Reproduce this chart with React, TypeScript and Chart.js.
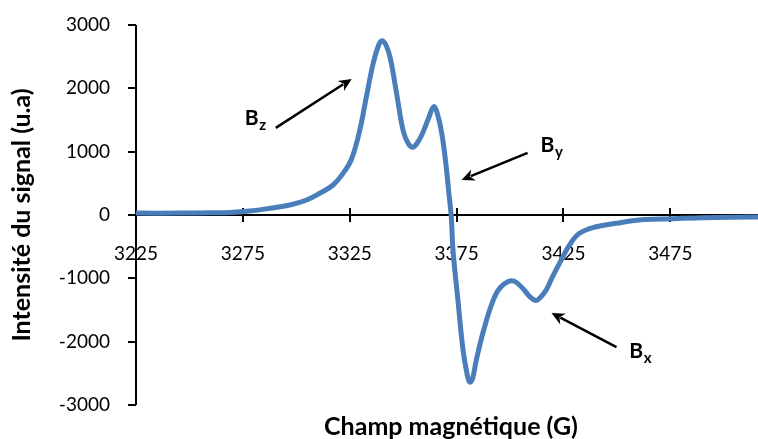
import React, { useEffect, useRef } from "react";
import { Chart, registerables } from "chart.js";

Chart.register(...registerables);

// Magnetic field (G) and signal intensity (a.u.)
const fieldG = [
  3225, 3245, 3260, 3269, 3278, 3287.6, 3297, 3304.8, 3311, 3317.2, 3321.9, 3325.8, 3329.7, 3332.8,
  3336, 3338.5, 3340, 3342, 3344, 3347, 3350, 3352.5, 3354.6, 3357, 3359.3, 3362, 3364.3, 3366, 3368,
  3370, 3371.4, 3372.5, 3373.3, 3375.6, 3378, 3380, 3381.2, 3382.5, 3384.2, 3388.1, 3392.8, 3396.7,
  3401.3, 3406, 3409, 3412.2, 3414.5, 3416.9, 3419.5, 3423.1, 3427.8, 3432.5, 3440.3, 3449.6, 3460.5,
  3475, 3490, 3516,
];
const intensity = [
  30, 30, 35, 40, 63, 106, 158, 237, 343, 474, 659, 880, 1340, 1870,
  2400, 2680, 2750, 2680, 2470, 1900, 1330, 1120, 1070, 1160, 1310, 1540, 1710, 1600, 1300,
  800, 340, -30, -550, -1340, -2130, -2530, -2640, -2580, -2290, -1765, -1290, -1105,
  -1040, -1160, -1280, -1350, -1290, -1185, -1000, -763, -474, -289, -185, -131, -79,
  -60, -45, -30,
];

const xTicks = [3225, 3275, 3325, 3375, 3425, 3475];
const yTicks = [-3000, -2000, -1000, 0, 1000, 2000, 3000];

const xTitle = "Champ magnétique (G)";
const yTitle = "Intensité du signal (u.a)";

// Annotations: label (B + subscript) and arrow tail -> head, in data units
const annoLabels = [
  { sub: "z", x: 3275.9, y: 1422 },
  { sub: "y", x: 3414.3, y: 995 },
  { sub: "x", x: 3455.8, y: -2259 },
];
const annoArrows = [
  { x1: 3290.4, y1: 1375, x2: 3325.9, y2: 2149 },
  { x1: 3408.2, y1: 980, x2: 3377.3, y2: 553 },
  { x1: 3449.8, y1: -2086, x2: 3419.4, y2: -1548 },
];

const FONT = "Lato, 'Open Sans', sans-serif";

const axesPlugin = {
  id: "customAxes",
  beforeDatasetsDraw(chart: any) {
    const { ctx, chartArea, scales } = chart;
    const x = scales.x;
    const y = scales.y;
    const y0 = Math.round(y.getPixelForValue(0));
    const left = Math.round(chartArea.left);
    ctx.save();
    ctx.strokeStyle = "#000";
    ctx.lineWidth = 2;
    ctx.beginPath();
    ctx.moveTo(left, Math.round(y.getPixelForValue(3000)));
    ctx.lineTo(left, Math.round(y.getPixelForValue(-3000)));
    for (const v of yTicks) {
      const py = Math.round(y.getPixelForValue(v));
      ctx.moveTo(left - 8, py);
      ctx.lineTo(left, py);
    }
    ctx.moveTo(left, y0);
    ctx.lineTo(chartArea.right, y0);
    for (const v of xTicks) {
      const px = Math.round(x.getPixelForValue(v));
      ctx.moveTo(px, y0 - 7);
      ctx.lineTo(px, y0 + 7);
    }
    ctx.stroke();
    ctx.restore();
  },
  afterDraw(chart: any) {
    const { ctx, chartArea, scales } = chart;
    const x = scales.x;
    const y = scales.y;
    ctx.save();
    // x title
    ctx.fillStyle = "#000";
    ctx.font = `bold 25px ${FONT}`;
    ctx.textAlign = "center";
    ctx.textBaseline = "middle";
    ctx.fillText(xTitle, (chartArea.left + chartArea.right) / 2 + 4, 427);
    // arrows
    ctx.strokeStyle = "#000";
    ctx.fillStyle = "#000";
    ctx.lineWidth = 2.5;
    for (const a of annoArrows) {
      const x1 = x.getPixelForValue(a.x1);
      const y1 = y.getPixelForValue(a.y1);
      const x2 = x.getPixelForValue(a.x2);
      const y2 = y.getPixelForValue(a.y2);
      const ang = Math.atan2(y2 - y1, x2 - x1);
      const hl = 13;
      const hw = 6;
      const bx = x2 - hl * Math.cos(ang);
      const by = y2 - hl * Math.sin(ang);
      ctx.beginPath();
      ctx.moveTo(x1, y1);
      ctx.lineTo(bx + 3 * Math.cos(ang), by + 3 * Math.sin(ang));
      ctx.stroke();
      ctx.beginPath();
      ctx.moveTo(x2, y2);
      ctx.lineTo(bx + hw * Math.sin(ang), by - hw * Math.cos(ang));
      ctx.lineTo(bx + 4 * Math.cos(ang), by + 4 * Math.sin(ang));
      ctx.lineTo(bx - hw * Math.sin(ang), by + hw * Math.cos(ang));
      ctx.closePath();
      ctx.fill();
    }
    // labels
    ctx.textAlign = "left";
    ctx.textBaseline = "alphabetic";
    for (const l of annoLabels) {
      const px = x.getPixelForValue(l.x);
      const py = y.getPixelForValue(l.y);
      ctx.font = `bold 21px ${FONT}`;
      ctx.fillText("B", px, py);
      const w = ctx.measureText("B").width;
      ctx.font = `bold 15px ${FONT}`;
      ctx.fillText(l.sub, px + w + 0.5, py + 5);
    }
    ctx.restore();
  },
};

export default function App() {
  const ref = useRef<HTMLCanvasElement | null>(null);
  useEffect(() => {
    document.body.style.margin = "0";
    if (!ref.current) return;
    const chart = new Chart(ref.current, {
      type: "line",
      data: {
        datasets: [
          {
            data: fieldG.map((f, i) => ({ x: f, y: intensity[i] })),
            borderColor: "#4a7ebb",
            borderWidth: 5,
            pointRadius: 0,
            tension: 0.4,
            fill: false,
          },
        ],
      },
      options: {
        animation: false,
        responsive: false,
        events: [],
        layout: { padding: { left: 0, right: 0, top: 25, bottom: 34 } },
        plugins: { legend: { display: false }, tooltip: { enabled: false } },
        scales: {
          x: {
            type: "linear",
            position: { y: 0 },
            min: 3225,
            max: 3516,
            afterBuildTicks: (s: any) => {
              s.ticks = xTicks.map((v) => ({ value: v }));
            },
            afterFit: (s: any) => {
              s.paddingLeft = 0;
              s.paddingRight = 0;
            },
            grid: { display: false, drawTicks: false },
            border: { display: false },
            ticks: {
              padding: 27,
              autoSkip: false,
              maxRotation: 0,
              color: "#000",
              font: { family: FONT, size: 19 },
              callback: (v: any) => String(v),
            },
          },
          y: {
            type: "linear",
            min: -3000,
            max: 3000,
            afterBuildTicks: (s: any) => {
              s.ticks = yTicks.map((v) => ({ value: v }));
            },
            afterFit: (s: any) => {
              s.width = 136;
              s.paddingTop = 0;
              s.paddingBottom = 0;
            },
            grid: { display: false, drawTicks: false },
            border: { display: false },
            ticks: {
              padding: 26,
              color: "#000",
              font: { family: FONT, size: 19 },
              callback: (v: any) => String(v),
            },
            title: {
              display: true,
              text: yTitle,
              color: "#000",
              font: { family: FONT, size: 25, weight: "bold" },
              padding: { top: 7, bottom: 0 },
            },
          },
        },
      },
      plugins: [axesPlugin],
    });
    return () => chart.destroy();
  }, []);
  return (
    <div style={{ position: "relative", width: 758, height: 439 }}>
      <canvas ref={ref} width={758} height={439} style={{ display: "block" }} />
    </div>
  );
}
